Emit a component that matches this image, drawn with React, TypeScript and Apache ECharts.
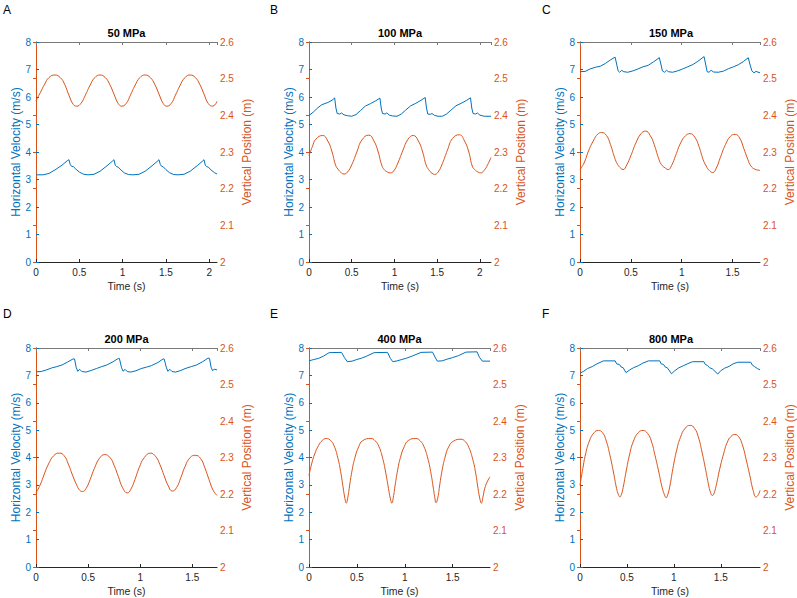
import React, { useEffect, useRef } from "react";
import * as echarts from "echarts";

// ---------- data ----------
const panelTitles = ["50 MPa", "100 MPa", "150 MPa", "200 MPa", "400 MPa", "800 MPa"];
const panelLetters = ["A", "B", "C", "D", "E", "F"];
const timeMax = [2.09, 2.13, 1.77, 1.737, 1.89, 1.918];

// Panel A (50 MPa)
const velTimeA = [0, 0.08, 0.15, 0.22, 0.3, 0.36, 0.38, 0.395, 0.41, 0.43, 0.46, 0.5, 0.55, 0.6, 0.67, 0.74, 0.82, 0.88, 0.9, 0.915, 0.93, 0.95, 0.98, 1.02, 1.07, 1.12, 1.19, 1.26, 1.34, 1.4, 1.42, 1.435, 1.45, 1.47, 1.5, 1.54, 1.59, 1.64, 1.71, 1.78, 1.86, 1.92, 1.94, 1.955, 1.97, 1.99, 2.02, 2.06, 2.09];
const velA = [3.17, 3.17, 3.22, 3.35, 3.52, 3.68, 3.72, 3.55, 3.48, 3.47, 3.38, 3.27, 3.19, 3.17, 3.19, 3.3, 3.5, 3.66, 3.72, 3.52, 3.47, 3.45, 3.35, 3.24, 3.18, 3.17, 3.19, 3.3, 3.5, 3.66, 3.72, 3.55, 3.48, 3.46, 3.36, 3.25, 3.18, 3.17, 3.19, 3.3, 3.5, 3.66, 3.72, 3.52, 3.47, 3.45, 3.35, 3.25, 3.2];
const posTimeA = [0, 0.05, 0.1, 0.15, 0.22, 0.28, 0.33, 0.38, 0.43, 0.47, 0.52, 0.57, 0.62, 0.68, 0.74, 0.8, 0.85, 0.9, 0.95, 0.99, 1.04, 1.09, 1.14, 1.2, 1.26, 1.32, 1.37, 1.42, 1.47, 1.51, 1.56, 1.61, 1.66, 1.72, 1.78, 1.84, 1.89, 1.94, 1.99, 2.04, 2.09];
const posA = [2.44, 2.462, 2.485, 2.503, 2.51, 2.503, 2.485, 2.455, 2.43, 2.425, 2.433, 2.455, 2.48, 2.503, 2.51, 2.503, 2.485, 2.458, 2.432, 2.425, 2.432, 2.455, 2.48, 2.503, 2.51, 2.503, 2.485, 2.458, 2.432, 2.425, 2.432, 2.455, 2.48, 2.503, 2.51, 2.503, 2.485, 2.458, 2.432, 2.425, 2.438];

// Panel B (100 MPa)
const velTimeB = [0, 0.05, 0.1, 0.15, 0.22, 0.28, 0.3, 0.315, 0.33, 0.36, 0.38, 0.41, 0.45, 0.5, 0.55, 0.6, 0.66, 0.72, 0.78, 0.83, 0.845, 0.86, 0.89, 0.91, 0.94, 0.98, 1.03, 1.08, 1.13, 1.19, 1.25, 1.31, 1.36, 1.375, 1.39, 1.42, 1.44, 1.47, 1.51, 1.56, 1.61, 1.66, 1.72, 1.78, 1.84, 1.89, 1.905, 1.92, 1.95, 1.97, 2.0, 2.05, 2.13];
const velB = [5.33, 5.45, 5.6, 5.72, 5.8, 5.9, 5.97, 5.6, 5.4, 5.38, 5.42, 5.35, 5.32, 5.3, 5.36, 5.5, 5.67, 5.76, 5.86, 5.96, 5.6, 5.4, 5.38, 5.42, 5.34, 5.31, 5.3, 5.38, 5.52, 5.68, 5.77, 5.88, 5.98, 5.6, 5.38, 5.37, 5.4, 5.33, 5.3, 5.3, 5.38, 5.52, 5.68, 5.77, 5.87, 5.97, 5.6, 5.4, 5.38, 5.42, 5.34, 5.3, 5.3];
const posTimeB = [0, 0.04, 0.08, 0.16, 0.22, 0.27, 0.31, 0.34, 0.38, 0.41, 0.45, 0.5, 0.56, 0.62, 0.7, 0.76, 0.81, 0.85, 0.88, 0.92, 0.95, 0.99, 1.04, 1.1, 1.16, 1.22, 1.28, 1.33, 1.37, 1.4, 1.44, 1.47, 1.51, 1.56, 1.62, 1.68, 1.76, 1.82, 1.87, 1.91, 1.94, 1.98, 2.01, 2.05, 2.09, 2.13];
const posB = [2.29, 2.315, 2.335, 2.345, 2.33, 2.3, 2.265, 2.253, 2.243, 2.24, 2.245, 2.265, 2.3, 2.333, 2.346, 2.33, 2.3, 2.265, 2.252, 2.245, 2.243, 2.248, 2.27, 2.305, 2.335, 2.345, 2.33, 2.3, 2.265, 2.252, 2.242, 2.239, 2.245, 2.268, 2.305, 2.337, 2.347, 2.33, 2.3, 2.262, 2.252, 2.245, 2.243, 2.25, 2.265, 2.285];

// Panel C (150 MPa)
const velTimeC = [0, 0.05, 0.1, 0.15, 0.2, 0.25, 0.3, 0.345, 0.36, 0.375, 0.39, 0.41, 0.43, 0.47, 0.52, 0.57, 0.62, 0.67, 0.72, 0.78, 0.795, 0.81, 0.83, 0.85, 0.87, 0.91, 0.96, 1.01, 1.06, 1.11, 1.16, 1.22, 1.235, 1.25, 1.27, 1.29, 1.31, 1.36, 1.41, 1.46, 1.51, 1.56, 1.61, 1.655, 1.67, 1.69, 1.71, 1.73, 1.77];
const velC = [6.92, 6.93, 7.02, 7.08, 7.12, 7.22, 7.35, 7.45, 7.2, 6.95, 6.9, 6.97, 6.92, 6.9, 6.95, 7.02, 7.1, 7.15, 7.27, 7.43, 7.2, 6.95, 6.9, 6.97, 6.92, 6.9, 6.95, 7.02, 7.1, 7.18, 7.3, 7.47, 7.2, 6.92, 6.9, 6.98, 6.91, 6.9, 6.94, 7.03, 7.1, 7.18, 7.3, 7.43, 7.2, 6.95, 6.88, 6.93, 6.88];
const posTimeC = [0, 0.04, 0.08, 0.13, 0.18, 0.214, 0.26, 0.3, 0.34, 0.37, 0.4, 0.424, 0.46, 0.5, 0.55, 0.6, 0.644, 0.69, 0.73, 0.77, 0.8, 0.84, 0.868, 0.9, 0.94, 0.99, 1.04, 1.082, 1.13, 1.17, 1.21, 1.24, 1.27, 1.305, 1.34, 1.38, 1.43, 1.48, 1.526, 1.57, 1.61, 1.65, 1.68, 1.72, 1.77];
const posC = [2.252, 2.27, 2.3, 2.33, 2.35, 2.353, 2.345, 2.32, 2.285, 2.266, 2.256, 2.252, 2.265, 2.29, 2.325, 2.35, 2.357, 2.345, 2.32, 2.285, 2.266, 2.256, 2.252, 2.263, 2.29, 2.325, 2.345, 2.35, 2.34, 2.315, 2.28, 2.262, 2.25, 2.244, 2.256, 2.285, 2.32, 2.343, 2.348, 2.338, 2.31, 2.28, 2.262, 2.253, 2.25];

// Panel D (200 MPa)
const velTimeD = [0, 0.05, 0.1, 0.15, 0.2, 0.25, 0.3, 0.355, 0.37, 0.385, 0.4, 0.42, 0.44, 0.48, 0.53, 0.58, 0.63, 0.68, 0.74, 0.79, 0.8, 0.82, 0.835, 0.855, 0.875, 0.91, 0.96, 1.01, 1.06, 1.11, 1.17, 1.22, 1.23, 1.25, 1.265, 1.285, 1.305, 1.34, 1.39, 1.44, 1.49, 1.54, 1.6, 1.65, 1.665, 1.68, 1.695, 1.71, 1.737];
const velD = [7.13, 7.14, 7.2, 7.27, 7.32, 7.38, 7.48, 7.6, 7.6, 7.3, 7.15, 7.22, 7.14, 7.12, 7.18, 7.25, 7.32, 7.38, 7.5, 7.62, 7.62, 7.3, 7.15, 7.22, 7.14, 7.12, 7.17, 7.25, 7.3, 7.36, 7.47, 7.6, 7.6, 7.3, 7.15, 7.22, 7.14, 7.12, 7.18, 7.26, 7.32, 7.38, 7.5, 7.63, 7.62, 7.3, 7.17, 7.23, 7.2];
const posTimeD = [0, 0.04, 0.08, 0.12, 0.17, 0.224, 0.27, 0.31, 0.35, 0.39, 0.42, 0.447, 0.48, 0.52, 0.56, 0.61, 0.66, 0.71, 0.75, 0.79, 0.83, 0.876, 0.91, 0.95, 0.99, 1.04, 1.098, 1.15, 1.19, 1.23, 1.27, 1.309, 1.35, 1.39, 1.43, 1.48, 1.529, 1.58, 1.62, 1.66, 1.7, 1.737];
const posD = [2.203, 2.225, 2.255, 2.282, 2.305, 2.312, 2.305, 2.282, 2.252, 2.225, 2.21, 2.207, 2.215, 2.24, 2.27, 2.298, 2.308, 2.3, 2.278, 2.248, 2.218, 2.203, 2.213, 2.24, 2.272, 2.3, 2.312, 2.302, 2.28, 2.25, 2.222, 2.208, 2.218, 2.245, 2.275, 2.3, 2.306, 2.297, 2.272, 2.24, 2.21, 2.196];

// Panel E (400 MPa)
const velTimeE = [0, 0.05, 0.1, 0.15, 0.21, 0.34, 0.37, 0.4, 0.45, 0.5, 0.55, 0.6, 0.68, 0.82, 0.85, 0.875, 0.92, 0.97, 1.02, 1.08, 1.17, 1.29, 1.32, 1.34, 1.39, 1.44, 1.5, 1.56, 1.64, 1.755, 1.78, 1.81, 1.89];
const velE = [7.53, 7.58, 7.62, 7.7, 7.83, 7.84, 7.65, 7.5, 7.52, 7.58, 7.63, 7.7, 7.83, 7.84, 7.62, 7.5, 7.53, 7.58, 7.63, 7.71, 7.84, 7.85, 7.64, 7.52, 7.53, 7.59, 7.65, 7.72, 7.85, 7.86, 7.66, 7.52, 7.52];
const posTimeE = [0, 0.03, 0.06, 0.1, 0.14, 0.18, 0.22, 0.26, 0.3, 0.33, 0.355, 0.375, 0.389, 0.405, 0.425, 0.45, 0.48, 0.52, 0.56, 0.646, 0.69, 0.73, 0.77, 0.8, 0.83, 0.85, 0.865, 0.88, 0.9, 0.925, 0.955, 0.995, 1.04, 1.115, 1.16, 1.2, 1.24, 1.27, 1.295, 1.315, 1.326, 1.345, 1.365, 1.39, 1.42, 1.46, 1.51, 1.587, 1.63, 1.67, 1.71, 1.74, 1.765, 1.785, 1.8, 1.815, 1.835, 1.86, 1.89];
const posE = [2.251, 2.285, 2.31, 2.333, 2.347, 2.352, 2.348, 2.333, 2.3, 2.262, 2.22, 2.188, 2.175, 2.19, 2.225, 2.265, 2.3, 2.33, 2.346, 2.352, 2.346, 2.33, 2.297, 2.26, 2.215, 2.187, 2.175, 2.19, 2.225, 2.265, 2.3, 2.33, 2.347, 2.352, 2.346, 2.33, 2.298, 2.262, 2.222, 2.188, 2.176, 2.19, 2.225, 2.265, 2.3, 2.33, 2.345, 2.35, 2.344, 2.327, 2.295, 2.258, 2.215, 2.186, 2.175, 2.19, 2.215, 2.233, 2.247];

// Panel F (800 MPa)
const velTimeF = [0, 0.04, 0.08, 0.13, 0.18, 0.25, 0.375, 0.39, 0.42, 0.44, 0.46, 0.49, 0.53, 0.57, 0.62, 0.67, 0.73, 0.85, 0.865, 0.89, 0.91, 0.93, 0.975, 1.01, 1.05, 1.1, 1.15, 1.2, 1.32, 1.335, 1.36, 1.38, 1.41, 1.468, 1.5, 1.54, 1.59, 1.63, 1.68, 1.82, 1.835, 1.86, 1.89, 1.918];
const velF = [7.08, 7.15, 7.25, 7.32, 7.42, 7.53, 7.53, 7.42, 7.4, 7.3, 7.28, 7.1, 7.2, 7.28, 7.35, 7.45, 7.53, 7.53, 7.42, 7.4, 7.3, 7.28, 7.06, 7.17, 7.27, 7.35, 7.43, 7.5, 7.5, 7.4, 7.36, 7.28, 7.24, 7.05, 7.17, 7.26, 7.33, 7.42, 7.48, 7.48, 7.38, 7.32, 7.25, 7.2];
const posTimeF = [0, 0.03, 0.06, 0.1, 0.15, 0.197, 0.24, 0.28, 0.32, 0.36, 0.39, 0.41, 0.426, 0.44, 0.46, 0.49, 0.53, 0.57, 0.62, 0.672, 0.72, 0.76, 0.8, 0.84, 0.875, 0.9, 0.918, 0.935, 0.96, 0.99, 1.03, 1.07, 1.12, 1.175, 1.22, 1.26, 1.3, 1.34, 1.37, 1.39, 1.41, 1.43, 1.455, 1.49, 1.53, 1.57, 1.61, 1.65, 1.69, 1.73, 1.77, 1.81, 1.845, 1.875, 1.9, 1.918];
const posF = [2.224, 2.27, 2.31, 2.345, 2.368, 2.374, 2.368, 2.345, 2.305, 2.255, 2.215, 2.198, 2.192, 2.198, 2.218, 2.26, 2.31, 2.345, 2.368, 2.374, 2.366, 2.345, 2.305, 2.26, 2.218, 2.198, 2.19, 2.198, 2.225, 2.27, 2.32, 2.355, 2.38, 2.388, 2.38, 2.357, 2.315, 2.265, 2.225, 2.205, 2.196, 2.203, 2.228, 2.27, 2.31, 2.342, 2.358, 2.363, 2.357, 2.335, 2.295, 2.25, 2.21, 2.192, 2.198, 2.21];

const velTimes = [velTimeA, velTimeB, velTimeC, velTimeD, velTimeE, velTimeF];
const velValues = [velA, velB, velC, velD, velE, velF];
const posTimes = [posTimeA, posTimeB, posTimeC, posTimeD, posTimeE, posTimeF];
const posValues = [posA, posB, posC, posD, posE, posF];

// ---------- styling / layout ----------
const FONT = '"Liberation Sans", Arial, Helvetica, sans-serif';
const BLUE = "#0072BD";
const ORANGE = "#D95319";
const DARK = "#262626";
const TOPLINE = "#7a7a7a";

const gridBoxes = [
  { left: 36, top: 42, width: 181, height: 220 },
  { left: 309, top: 42, width: 182, height: 220 },
  { left: 580, top: 42, width: 182, height: 220 },
  { left: 36, top: 348, width: 181, height: 219 },
  { left: 309, top: 348, width: 181, height: 219 },
  { left: 580, top: 348, width: 182, height: 219 },
];
const letterPos = [
  { x: 3, y: 10 },
  { x: 270, y: 10 },
  { x: 542, y: 10 },
  { x: 3, y: 314 },
  { x: 270, y: 314 },
  { x: 542, y: 314 },
];

const zip = (a: number[], b: number[]) => a.map((t, i) => [t, b[i]]);
const fmt1 = (v: number) => String(Math.round(v * 10) / 10);
const fmtHalf = (v: number) =>
  Math.abs(v * 2 - Math.round(v * 2)) > 1e-6 ? "" : String(Math.round(v * 10) / 10);

function buildOption() {
  const grid: any[] = [];
  const xAxis: any[] = [];
  const yAxis: any[] = [];
  const series: any[] = [];
  const graphic: any[] = [];

  gridBoxes.forEach((g, i) => {
    grid.push({ ...g, containLabel: false });
    xAxis.push({
      type: "value",
      gridIndex: i,
      position: "bottom",
      min: 0,
      max: timeMax[i],
      interval: 0.5,
      axisLine: { show: true, lineStyle: { color: DARK, width: 1 } },
      axisTick: { show: true, inside: true, length: 3, lineStyle: { color: DARK } },
      axisLabel: {
        show: true,
        color: DARK,
        fontSize: 10,
        fontFamily: FONT,
        margin: 5,
        showMaxLabel: false,
        formatter: fmtHalf,
      },
      splitLine: { show: false },
      name: "Time (s)",
      nameLocation: "middle",
      nameGap: 18,
      nameTextStyle: { color: DARK, fontSize: 10.5, fontFamily: FONT },
    });
    xAxis.push({
      type: "value",
      gridIndex: i,
      position: "top",
      min: 0,
      max: timeMax[i],
      interval: 0.5,
      axisLine: { show: true, lineStyle: { color: TOPLINE, width: 1 } },
      axisTick: { show: true, inside: true, length: 3, lineStyle: { color: TOPLINE } },
      axisLabel: { show: false },
      splitLine: { show: false },
    });
    yAxis.push({
      type: "value",
      gridIndex: i,
      position: "left",
      min: 0,
      max: 8,
      interval: 1,
      axisLine: { show: true, lineStyle: { color: BLUE, width: 1 } },
      axisTick: { show: true, inside: true, length: 3, lineStyle: { color: BLUE } },
      axisLabel: { color: BLUE, fontSize: 10, fontFamily: FONT, margin: 5, formatter: fmt1 },
      splitLine: { show: false },
      name: "Horizontal Velocity (m/s)",
      nameLocation: "middle",
      nameRotate: 90,
      nameGap: 14,
      nameTextStyle: { color: BLUE, fontSize: 12, fontFamily: FONT },
    });
    yAxis.push({
      type: "value",
      gridIndex: i,
      position: "right",
      min: 2,
      max: 2.6,
      interval: 0.1,
      axisLine: { show: true, lineStyle: { color: ORANGE, width: 1 } },
      axisTick: { show: true, inside: true, length: 3, lineStyle: { color: ORANGE } },
      axisLabel: { color: ORANGE, fontSize: 10, fontFamily: FONT, margin: 3, formatter: fmt1 },
      splitLine: { show: false },
      name: "Vertical Position (m)",
      nameLocation: "middle",
      nameRotate: 90,
      nameGap: 24,
      nameTextStyle: { color: ORANGE, fontSize: 12, fontFamily: FONT },
    });

    series.push({
      type: "line",
      xAxisIndex: i * 2,
      yAxisIndex: i * 2,
      data: zip(velTimes[i], velValues[i]),
      showSymbol: false,
      symbol: "none",
      lineStyle: { color: BLUE, width: 1 },
      itemStyle: { color: BLUE },
      smooth: false,
    });
    series.push({
      type: "line",
      xAxisIndex: i * 2,
      yAxisIndex: i * 2 + 1,
      data: zip(posTimes[i], posValues[i]),
      showSymbol: false,
      symbol: "none",
      lineStyle: { color: ORANGE, width: 1 },
      itemStyle: { color: ORANGE },
      smooth: 0.5,
    });

    graphic.push({
      type: "text",
      x: g.left + g.width / 2,
      y: g.top - 9,
      style: {
        text: panelTitles[i],
        fontSize: 11,
        fontWeight: "bold",
        fontFamily: FONT,
        fill: "#000",
        align: "center",
        verticalAlign: "middle",
      },
    });
    graphic.push({
      type: "text",
      x: letterPos[i].x,
      y: letterPos[i].y,
      style: {
        text: panelLetters[i],
        fontSize: 12,
        fontFamily: FONT,
        fill: "#000",
        align: "left",
        verticalAlign: "middle",
      },
    });
  });

  return {
    animation: false,
    backgroundColor: "#ffffff",
    grid,
    xAxis,
    yAxis,
    series,
    graphic,
  };
}

export default function App() {
  const ref = useRef<HTMLDivElement>(null);
  useEffect(() => {
    if (!ref.current) return;
    const chart = echarts.init(ref.current, undefined, { renderer: "svg" });
    chart.setOption(buildOption() as any);
    return () => chart.dispose();
  }, []);
  return (
    <div
      ref={ref}
      style={{ position: "absolute", left: 0, top: 0, width: 797, height: 598, background: "#fff" }}
    />
  );
}
